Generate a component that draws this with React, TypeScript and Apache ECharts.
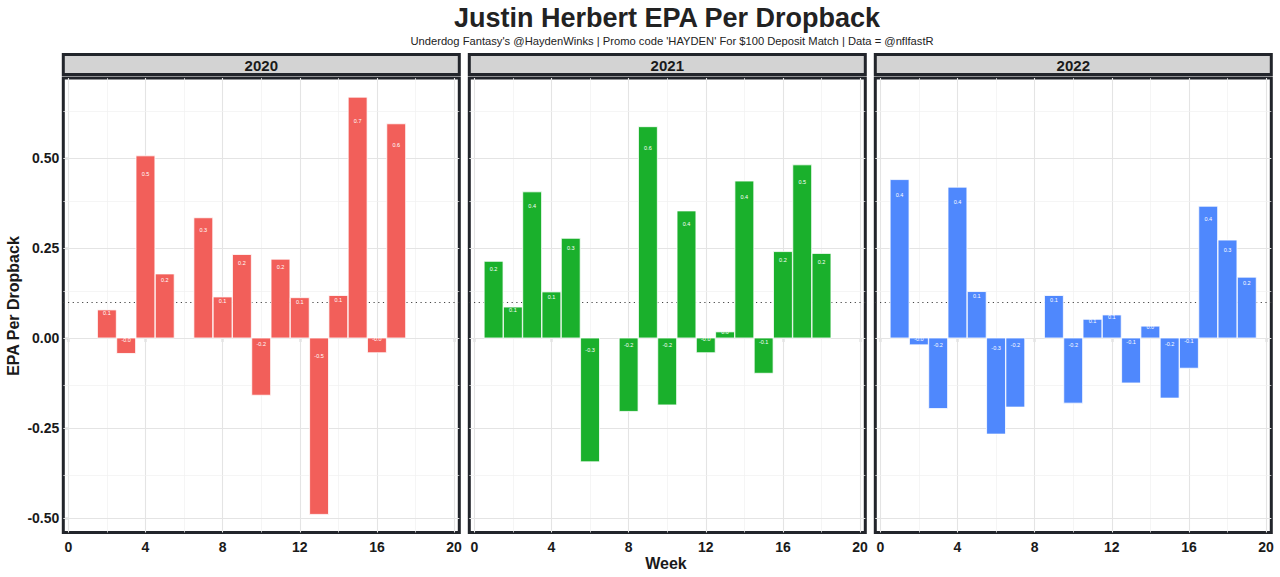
import React, { useEffect, useRef } from "react";
import * as echarts from "echarts";

const seasons = ["2020", "2021", "2022"];
const seasonColors = ["#f25f5a", "#1ab02c", "#4f88fd"];

const weeks2020 = [2, 3, 4, 5, 7, 8, 9, 10, 11, 12, 13, 14, 15, 16, 17];
const epa2020 = [0.078, -0.043, 0.506, 0.178, 0.334, 0.114, 0.232, -0.159, 0.219, 0.112, -0.49, 0.118, 0.669, -0.041, 0.595];
const weeks2021 = [1, 2, 3, 4, 5, 6, 8, 9, 10, 11, 12, 13, 14, 15, 16, 17, 18];
const epa2021 = [0.213, 0.086, 0.406, 0.128, 0.277, -0.344, -0.204, 0.587, -0.186, 0.353, -0.041, 0.017, 0.436, -0.098, 0.24, 0.481, 0.235];
const weeks2022 = [1, 2, 3, 4, 5, 6, 7, 9, 10, 11, 12, 13, 14, 15, 16, 17, 18, 19];
const epa2022 = [0.44, -0.019, -0.196, 0.419, 0.129, -0.267, -0.192, 0.118, -0.181, 0.052, 0.064, -0.125, 0.033, -0.167, -0.084, 0.366, 0.272, 0.169];

const leagueAvg = 0.098;

const weekTicks = [0, 4, 8, 12, 16, 20];
const weekMinorGrid = [2, 6, 10, 14, 18];
const epaTicks = [-0.5, -0.25, 0, 0.25, 0.5];
const epaMinorGrid = [-0.375, -0.125, 0.125, 0.375, 0.625];

const titleText = "Justin Herbert EPA Per Dropback";
const subtitleText =
  "Underdog Fantasy's @HaydenWinks | Promo code 'HAYDEN' For $100 Deposit Match | Data = @nflfastR";

const FONT = "'Liberation Sans', Arial, Helvetica, sans-serif";
const DARK = "#22252b";

export default function App() {
  const ref = useRef<HTMLDivElement>(null);
  useEffect(() => {
    if (!ref.current) return;
    const chart = echarts.init(ref.current, null, { renderer: "svg" });
    const weeksAll = [weeks2020, weeks2021, weeks2022];
    const epaAll = [epa2020, epa2021, epa2022];

    const panelLeft0 = 63.3;
    const panelStep = 406;
    const panelW = 396;
    const gridTop = 78;
    const gridH = 454.5;

    const grids: any[] = [];
    const xAxes: any[] = [];
    const yAxes: any[] = [];
    const series: any[] = [];
    const graphics: any[] = [];

    seasons.forEach((season, i) => {
      const left = panelLeft0 + i * panelStep;
      grids.push({
        left,
        top: gridTop,
        width: panelW,
        height: gridH,
        show: true,
        borderColor: DARK,
        borderWidth: 3,
        backgroundColor: "#ffffff",
      });
      xAxes.push({
        gridIndex: i,
        type: "value",
        min: -0.259,
        max: 20.27,
        axisLine: { show: false },
        splitLine: { show: false },
        axisTick: {
          show: true,
          customValues: weekTicks,
          length: 4,
          lineStyle: { color: "#333", width: 1.2 },
        },
        axisLabel: {
          customValues: weekTicks,
          fontWeight: "bold",
          fontSize: 14,
          color: "#1a1a1a",
          fontFamily: FONT,
          margin: 7,
        },
      });
      yAxes.push({
        gridIndex: i,
        type: "value",
        min: -0.5403,
        max: 0.7222,
        axisLine: { show: false },
        splitLine: { show: false },
        axisTick: {
          show: i === 0,
          customValues: epaTicks,
          length: 4,
          lineStyle: { color: "#333", width: 1.2 },
        },
        axisLabel: {
          show: i === 0,
          customValues: epaTicks,
          formatter: (v: number) => v.toFixed(2),
          fontWeight: "bold",
          fontSize: 14,
          color: "#1a1a1a",
          fontFamily: FONT,
          margin: 4,
        },
      });

      const major = { color: "#e4e4e4", width: 1.1, type: "solid" };
      const minor = { color: "#f0f0f0", width: 0.7, type: "solid" };
      const lines: any[] = [];
      weekTicks.forEach((v) => lines.push({ xAxis: v, lineStyle: major }));
      weekMinorGrid.forEach((v) => lines.push({ xAxis: v, lineStyle: minor }));
      epaTicks.forEach((v) => lines.push({ yAxis: v, lineStyle: major }));
      epaMinorGrid.forEach((v) => lines.push({ yAxis: v, lineStyle: minor }));
      lines.push({
        yAxis: leagueAvg,
        lineStyle: { color: "#444", width: 1, type: [1.2, 3.5] },
      });

      series.push({
        type: "line",
        xAxisIndex: i,
        yAxisIndex: i,
        data: [],
        z: 1,
        silent: true,
        markLine: {
          silent: true,
          z: 1,
          symbol: "none",
          label: { show: false },
          animation: false,
          data: lines,
        },
      });

      const color = seasonColors[i];
      series.push({
        type: "custom",
        xAxisIndex: i,
        yAxisIndex: i,
        z: 6,
        data: weeksAll[i].map((w, k) => [w, epaAll[i][k]]),
        renderItem: (_params: any, api: any) => {
          const w = api.value(0) as number;
          const v = api.value(1) as number;
          const p0 = api.coord([w - 0.49, Math.max(v, 0)]);
          const p1 = api.coord([w + 0.49, Math.min(v, 0)]);
          const lp = api.coord([w, v > 0 ? v * 0.9 : v * 0.1]);
          return {
            type: "group",
            children: [
              {
                type: "rect",
                shape: { x: p0[0], y: p0[1], width: p1[0] - p0[0], height: p1[1] - p0[1] },
                style: { fill: color, stroke: "#ffffff", lineWidth: 0.8 },
              },
              {
                type: "text",
                x: lp[0],
                y: lp[1],
                style: {
                  text: v.toFixed(1),
                  fill: "#ffffff",
                  fontSize: 5.5,
                  fontFamily: FONT,
                  align: "center",
                  verticalAlign: "middle",
                  textAlign: "center",
                  textVerticalAlign: "middle",
                },
              },
            ],
          };
        },
      });

      graphics.push({
        type: "rect",
        shape: { x: left, y: 54.5, width: panelW, height: 20 },
        style: { fill: "#d3d3d3", stroke: DARK, lineWidth: 3 },
        z: 10,
      });
      graphics.push({
        type: "text",
        x: left + panelW / 2,
        y: 65,
        z: 11,
        style: {
          text: season,
          fontSize: 15,
          fontWeight: "bold",
          fontFamily: FONT,
          fill: "#1a1a1a",
          align: "center",
          verticalAlign: "middle",
          textAlign: "center",
          textVerticalAlign: "middle",
        },
      });
    });

    graphics.push({
      type: "text",
      x: 667,
      y: 18,
      style: {
        text: titleText,
        fontSize: 27,
        fontWeight: "bold",
        fontFamily: FONT,
        fill: "#222",
        align: "center",
        verticalAlign: "middle",
        textAlign: "center",
        textVerticalAlign: "middle",
      },
    });
    graphics.push({
      type: "text",
      x: 672,
      y: 41,
      style: {
        text: subtitleText,
        fontSize: 11.2,
        fontFamily: FONT,
        fill: "#222",
        align: "center",
        verticalAlign: "middle",
        textAlign: "center",
        textVerticalAlign: "middle",
      },
    });
    graphics.push({
      type: "text",
      x: 666,
      y: 563,
      style: {
        text: "Week",
        fontSize: 16,
        fontWeight: "bold",
        fontFamily: FONT,
        fill: "#1a1a1a",
        align: "center",
        verticalAlign: "middle",
        textAlign: "center",
        textVerticalAlign: "middle",
      },
    });
    graphics.push({
      type: "text",
      x: 13,
      y: 306,
      rotation: Math.PI / 2,
      style: {
        text: "EPA Per Dropback",
        fontSize: 16,
        fontWeight: "bold",
        fontFamily: FONT,
        fill: "#1a1a1a",
        align: "center",
        verticalAlign: "middle",
        textAlign: "center",
        textVerticalAlign: "middle",
      },
    });

    chart.setOption({
      animation: false,
      backgroundColor: "#ffffff",
      grid: grids,
      xAxis: xAxes,
      yAxis: yAxes,
      series,
      graphic: graphics,
    });
    return () => chart.dispose();
  }, []);
  return (
    <div
      ref={ref}
      style={{ position: "fixed", left: 0, top: 0, width: 1280, height: 577 }}
    />
  );
}
